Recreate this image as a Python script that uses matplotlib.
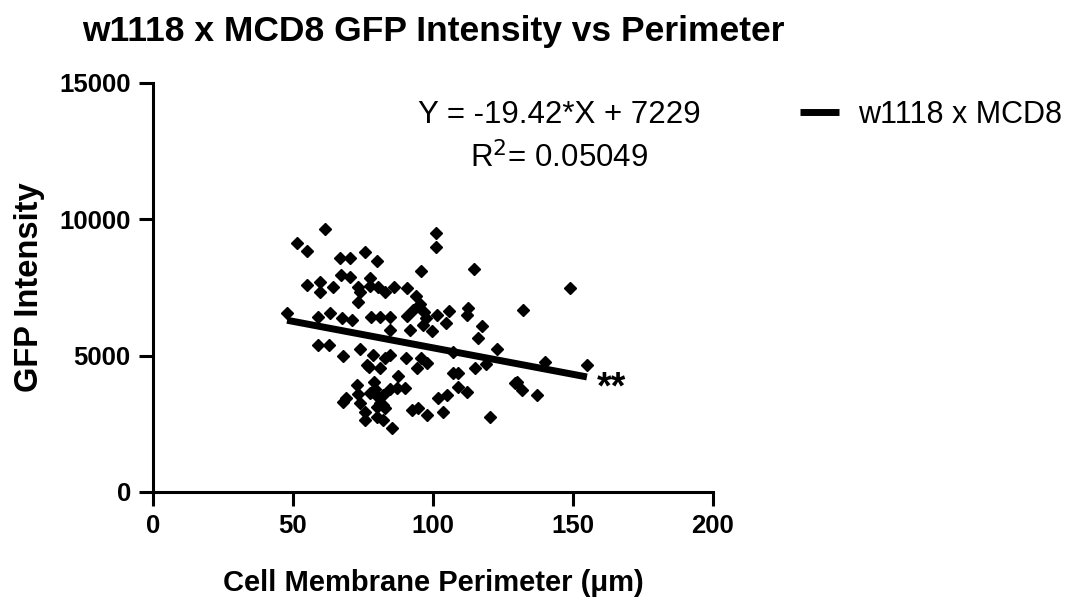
import matplotlib
matplotlib.use('Agg')
import matplotlib.pyplot as plt
import numpy as np

plt.rcParams['font.family'] = ['Liberation Sans', 'DejaVu Sans']

# Cell membrane perimeter (um) and GFP intensity
perimeter = [51.4, 55.0, 61.4, 75.7, 66.8, 70.4, 80.0, 101.1, 101.1, 95.7,
             114.6, 67.1, 70.4, 77.5, 59.6, 55.0, 64.3, 59.6, 73.2, 73.9,
             77.5, 80.4, 82.9, 86.1, 90.7, 93.9, 95.4, 73.2, 148.9, 132.1,
             47.9, 58.9, 63.2, 67.5, 71.1, 77.9, 81.1, 84.6, 90.7, 92.9,
             96.8, 97.5, 101.4, 105.7, 104.6, 112.5, 112.1, 117.5, 116.1, 122.9,
             96.4, 99.6, 84.6, 91.8, 58.9, 62.9, 67.9, 73.9, 77.1, 78.6,
             84.6, 90.4, 95.7, 97.9, 94.3, 76.4, 81.1, 87.5, 82.9, 107.1,
             115.0, 118.9, 107.1, 108.9, 140.0, 155.0, 129.3, 78.9, 79.3, 77.5,
             80.4, 84.6, 87.1, 90.0, 73.9, 81.1, 92.5, 94.6, 97.9, 101.8,
             75.7, 80.0, 82.1, 85.4, 72.9, 73.2, 67.9, 68.9, 75.7, 80.0,
             78.6, 82.1, 82.9, 108.9, 112.1, 105.0, 103.6, 120.4, 130.0, 131.8,
             137.1, 82.1]
gfp = [9131, 8837, 9644, 8801, 8581, 8581, 8471, 9498, 8984, 8104,
       8177, 7957, 7884, 7847, 7701, 7591, 7517, 7334, 7517, 7334,
       7554, 7517, 7334, 7517, 7481, 7187, 6894, 6967, 7481, 6674,
       6564, 6417, 6564, 6381, 6307, 6417, 6417, 6417, 6454, 6674,
       6601, 6381, 6491, 6637, 6197, 6747, 6491, 6087, 5647, 5244,
       6124, 5904, 5941, 5941, 5390, 5390, 4987, 5244, 4584, 5024,
       5024, 4914, 4914, 4730, 4547, 4657, 4547, 4254, 4914, 5134,
       4547, 4694, 4364, 4364, 4767, 4657, 3997, 4034, 3777, 3630,
       3484, 3777, 3814, 3814, 3264, 3264, 3007, 3080, 2824, 3447,
       2640, 2750, 2640, 2347, 3924, 3594, 3300, 3447, 2934, 3117,
       3667, 3557, 3080, 3850, 3667, 3557, 2934, 2750, 4034, 3740,
       3557, 3190]

slope = -19.42
intercept = 7229
r_squared = 0.05049
series_name = 'w1118 x MCD8'

fig = plt.figure(figsize=(10.75, 6.01), dpi=100)
ax = fig.add_axes([0.1423, 0.1814, 0.5209, 0.6805])

ax.plot(perimeter, gfp, linestyle='none', marker='D', markersize=6.6,
        color='black', zorder=3)

x_fit = np.array([min(perimeter), max(perimeter)])
ax.plot(x_fit, slope * x_fit + intercept, color='black', linewidth=5,
        solid_capstyle='butt', zorder=4, label=series_name)

ax.set_xlim(0, 200)
ax.set_ylim(0, 15000)
ax.set_xticks([0, 50, 100, 150, 200])
ax.set_yticks([0, 5000, 10000, 15000])

for side in ['top', 'right']:
    ax.spines[side].set_visible(False)
for side in ['left', 'bottom']:
    ax.spines[side].set_linewidth(2.2)
ax.tick_params(axis='both', width=2.2, length=10, labelsize=18.5)
ax.tick_params(axis='x', pad=6)
ax.tick_params(axis='y', pad=6)
for lbl in ax.get_xticklabels() + ax.get_yticklabels():
    lbl.set_fontweight('bold')

ax.set_xlabel('Cell Membrane Perimeter (μm)', fontsize=21, fontweight='bold',
              labelpad=22)
ax.set_ylabel('GFP Intensity', fontsize=23.5, fontweight='bold', labelpad=10)

fig.text(433 / 1075, 1 - 31 / 601, 'w1118 x MCD8 GFP Intensity vs Perimeter',
         ha='center', va='center', fontsize=25.5, fontweight='bold')

ax.text(145, 13825, f'Y = {slope}*X + {intercept}', ha='center', va='center',
        fontsize=22.5)
ax.text(145, 12250, f'R$^2$= {r_squared}', ha='center', va='center',
        fontsize=22.5)
ax.text(158.5, 3780, '**', ha='left', va='center', fontsize=27,
        fontweight='bold')

ax.legend(loc='center left', bbox_to_anchor=(1.155, 0.922), frameon=False,
          fontsize=22, handlelength=1.3, handletextpad=0.6, borderpad=0,
          borderaxespad=0)

fig.savefig('out.png', dpi=100)
